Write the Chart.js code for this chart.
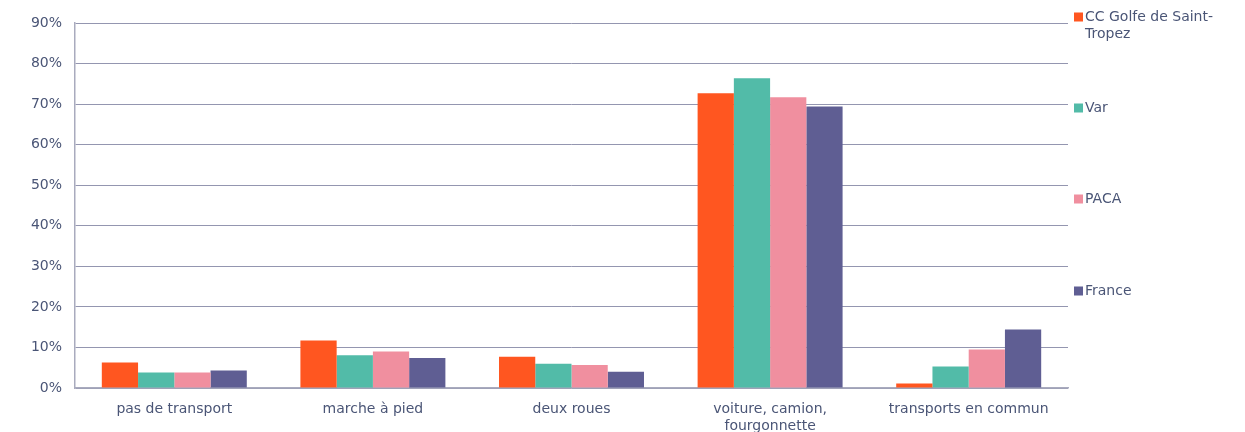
<!DOCTYPE html>
<html>
<head>
<meta charset="utf-8">
<script src="https://cdn.jsdelivr.net/npm/chart.js@4"></script>
<style>
  html, body { margin: 0; padding: 0; background: #fff; }
  #wrap { width: 1245px; height: 432px; position: relative; }
</style>
</head>
<body>
<div id="wrap"><canvas id="chart"></canvas></div>
<script>
const categories = ['pas de transport', 'marche à pied', 'deux roues', ['voiture, camion,', 'fourgonnette'], 'transports en commun'];
const seriesNames = [['CC Golfe de Saint-', 'Tropez'], ['Var'], ['PACA'], ['France']];
const golfe  = [6.3, 11.7, 7.7, 72.7, 1.1];
const varDep = [3.8, 8.1, 6.0, 76.4, 5.3];
const paca   = [3.8, 9.0, 5.7, 71.7, 9.5];
const france = [4.3, 7.4, 4.0, 69.4, 14.4];
const colors = ['#FF5620', '#52BBA8', '#F08F9F', '#5F5E93'];
const textColor = '#4A5576';
const font = { family: 'DejaVu Sans', size: 14 };

// legend spread along the right side, like the original
const sideLegend = {
  id: 'sideLegend',
  afterDraw(chart) {
    const ctx = chart.ctx;
    const ys = [17, 108, 199, 291];
    ctx.save();
    ctx.font = font.size + 'px ' + font.family;
    ctx.textBaseline = 'middle';
    ctx.textAlign = 'left';
    seriesNames.forEach((lines, i) => {
      ctx.fillStyle = colors[i];
      ctx.fillRect(1074, ys[i] - 4.5, 9, 9);
      ctx.fillStyle = textColor;
      lines.forEach((l, j) => ctx.fillText(l, 1085, ys[i] + j * 17));
    });
    ctx.restore();
  }
};

const data = [golfe, varDep, paca, france];

new Chart(document.getElementById('chart'), {
  type: 'bar',
  data: {
    labels: categories,
    datasets: data.map((d, i) => ({
      label: seriesNames[i].join(''),
      data: d,
      backgroundColor: colors[i],
      categoryPercentage: 0.73,
      barPercentage: 1.0
    }))
  },
  options: {
    responsive: true,
    maintainAspectRatio: false,
    animation: false,
    layout: { padding: { top: 23, right: 177, bottom: 0, left: 0 } },
    plugins: { legend: { display: false }, tooltip: { enabled: false } },
    scales: {
      x: {
        grid: { display: false, drawTicks: false },
        border: { color: '#A9ABBE', width: 1.5 },
        ticks: { color: textColor, font: font, padding: 13, maxRotation: 0 },
        afterFit(s) { s.height = 44; }
      },
      y: {
        min: 0, max: 90,
        grid: { color: '#9496B0', drawTicks: false },
        border: { color: '#A9ABBE', width: 1.5 },
        ticks: { stepSize: 10, color: textColor, font: font, padding: 13, callback: v => v + '%' },
        afterFit(s) { s.width = 75; }
      }
    }
  },
  plugins: [sideLegend]
});
</script>
</body>
</html>
